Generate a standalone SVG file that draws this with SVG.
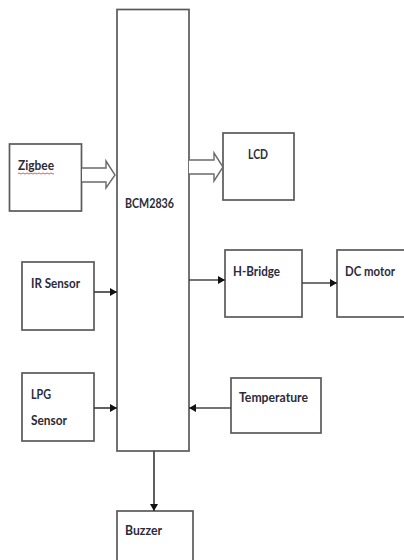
<svg xmlns="http://www.w3.org/2000/svg" width="404" height="560" viewBox="0 0 404 560">
<style>
.box{fill:#fff;stroke:#5a5a5a;stroke-width:1.7}
.t{font-family:Lato,"Open Sans","Liberation Sans",sans-serif;font-weight:bold;font-size:13px;fill:#2b2b3a}
.ln{stroke:#444;stroke-width:1.7;fill:none}
.blk{fill:#fff;stroke:#6a6a6a;stroke-width:1.4}
</style>
<defs>
<marker id="ah" markerWidth="8" markerHeight="8" refX="7" refY="4" orient="auto" markerUnits="userSpaceOnUse">
<path d="M0,0 L7,4 L0,8 Z" fill="#111"/>
</marker>
</defs>
<rect width="404" height="560" fill="#fff"/>
<g id="bcm"><rect class="box" x="117" y="9.5" width="72" height="441.5"/><text class="t" x="125" y="208" textLength="49" lengthAdjust="spacingAndGlyphs">BCM2836</text></g>
<g id="zigbee"><rect class="box" x="9.5" y="144" width="72" height="67"/><text class="t" x="18" y="170" textLength="36" lengthAdjust="spacingAndGlyphs">Zigbee</text><path d="M18,173.5 q1,-1 2,0 t2,0 t2,0 t2,0 t2,0 t2,0 t2,0 t2,0 t2,0 t2,0 t2,0 t2,0 t2,0 t2,0 t2,0 t2,0 t2,0 t2,0" fill="none" stroke="#e03030" stroke-width="0.8"/></g>
<g id="lcd"><rect class="box" x="223" y="133" width="71" height="67"/><text class="t" x="248" y="159" textLength="20" lengthAdjust="spacingAndGlyphs">LCD</text></g>
<g id="ir"><rect class="box" x="22" y="262" width="72" height="68"/><text class="t" x="31" y="288" textLength="49" lengthAdjust="spacingAndGlyphs">IR Sensor</text></g>
<g id="lpg"><rect class="box" x="22" y="373" width="72" height="68"/><text class="t" x="31" y="399" textLength="20" lengthAdjust="spacingAndGlyphs">LPG</text><text class="t" x="31" y="425" textLength="36" lengthAdjust="spacingAndGlyphs">Sensor</text></g>
<g id="hbridge"><rect class="box" x="225" y="250" width="77" height="67"/><text class="t" x="233" y="276" textLength="47" lengthAdjust="spacingAndGlyphs">H-Bridge</text></g>
<g id="dcmotor"><rect class="box" x="337" y="250" width="80" height="67"/><text class="t" x="345" y="276" textLength="50" lengthAdjust="spacingAndGlyphs">DC motor</text></g>
<g id="temperature"><rect class="box" x="231" y="378" width="90" height="55"/><text class="t" x="239" y="402" textLength="69" lengthAdjust="spacingAndGlyphs">Temperature</text></g>
<g id="buzzer"><rect class="box" x="117" y="511" width="76" height="60"/><text class="t" x="125" y="535" textLength="37" lengthAdjust="spacingAndGlyphs">Buzzer</text></g>
<g id="connectors">
<path class="blk" d="M82,168 L106,168 L106,161 L115,175 L106,188 L106,182 L82,182"/>
<path class="blk" d="M189,160 L214,160 L214,153 L223,167 L214,181 L214,174 L189,174"/>
<line class="ln" x1="94" y1="292" x2="117" y2="292" marker-end="url(#ah)"/>
<line class="ln" x1="94" y1="408" x2="117" y2="408" marker-end="url(#ah)"/>
<line class="ln" x1="189" y1="280" x2="225" y2="280" marker-end="url(#ah)"/>
<line class="ln" x1="302" y1="283" x2="337" y2="283" marker-end="url(#ah)"/>
<line class="ln" x1="231" y1="408" x2="189" y2="408" marker-end="url(#ah)"/>
<line class="ln" x1="154" y1="451" x2="154" y2="511" marker-end="url(#ah)"/>
</g>
</svg>
